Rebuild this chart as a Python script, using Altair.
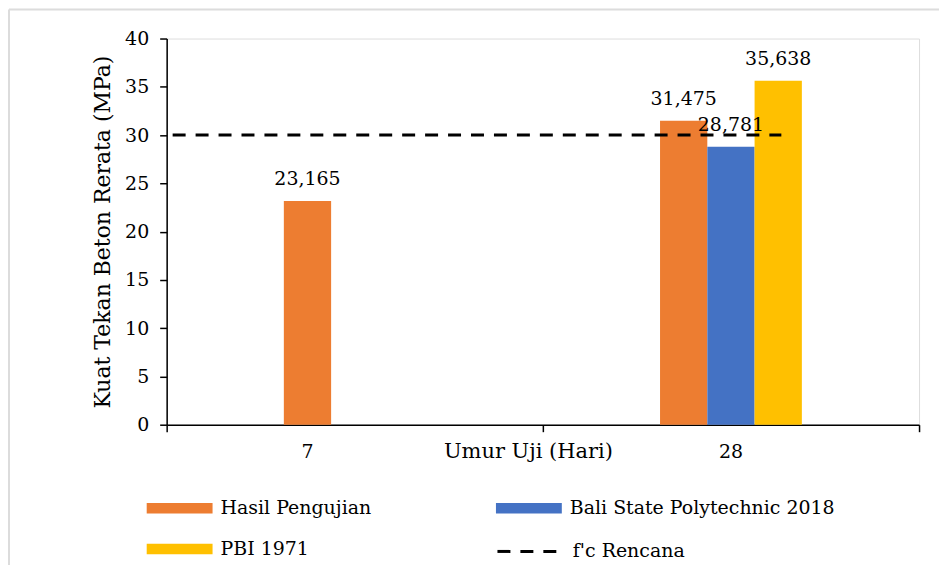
import altair as alt
import pandas as pd

# ---- data ----
umur = ["7", "28", "28", "28"]
seri = ["Hasil Pengujian", "Hasil Pengujian", "Bali State Polytechnic 2018", "PBI 1971"]
kuat = [23.165, 31.475, 28.781, 35.638]

kategori = ["7", "28"]
posisi_label = ["Hasil Pengujian", "Bali State Polytechnic 2018"]

fc_nama = ["f'c Rencana"]
fc_rencana = [30]

urutan_seri = ["Hasil Pengujian", "Bali State Polytechnic 2018", "PBI 1971"]
urutan_legenda = ["Hasil Pengujian", "PBI 1971", "Bali State Polytechnic 2018"]
warna = ["#ED7D31", "#4472C4", "#FFC000"]
y_ticks = [0, 5, 10, 15, 20, 25, 30, 35, 40]

FONT = "DejaVu Serif"
W, H = 754, 387
BAND = W / len(kategori)
GROUP_PAD = 0.3115
SYM = "M-1,-0.32H3V0.32H-1Z"
SYM_LINE = "M-1,0H3"

bars_df = pd.DataFrame({"umur": umur, "seri": seri, "kuat": kuat})
xlab_df = pd.DataFrame({"umur": kategori, "seri": posisi_label})
fc_df = pd.DataFrame({"nama": fc_nama, "fc": fc_rencana})

x_enc = alt.X(
    "umur:N",
    scale=alt.Scale(domain=kategori, paddingInner=0, paddingOuter=0),
    axis=alt.Axis(
        title="Umur Uji (Hari)",
        labels=False,
        tickBand="extent",
        tickSize=7,
        tickColor="black",
        tickWidth=1.5,
        domainColor="black",
        domainWidth=1.5,
        titleFont=FONT,
        titleFontSize=21,
        titleFontWeight="normal",
        titleColor="black",
        titleX=362,
        titleY=27,
        titleAlign="center",
        titleBaseline="middle",
    ),
)
xoff = alt.XOffset(
    "seri:N",
    scale=alt.Scale(
        domain=urutan_seri,
        paddingInner=0,
        paddingOuter=0,
        range=[BAND * GROUP_PAD, BAND * (1 - GROUP_PAD)],
    ),
)
y_scale = alt.Scale(domain=[0, 40], nice=False)

bars = alt.Chart(bars_df).mark_bar().encode(
    x=x_enc,
    xOffset=xoff,
    y=alt.Y(
        "kuat:Q",
        scale=y_scale,
        axis=alt.Axis(
            title="Kuat Tekan Beton Rerata (MPa)",
            values=y_ticks,
            grid=False,
            tickSize=7,
            tickColor="black",
            tickWidth=1.5,
            domainColor="black",
            domainWidth=1.5,
            labelFont=FONT,
            labelFontSize=19,
            labelColor="black",
            labelPadding=11,
            titleFont=FONT,
            titleFontSize=22,
            titleFontWeight="normal",
            titleColor="black",
            titlePadding=10,
        ),
    ),
    color=alt.Color(
        "seri:N",
        scale=alt.Scale(domain=urutan_seri, range=warna),
        legend=alt.Legend(
            title=None,
            orient="none",
            legendX=-20,
            legendY=454,
            columns=2,
            values=urutan_legenda,
            columnPadding=124,
            rowPadding=14,
            symbolType=SYM,
            symbolSize=1089,
            symbolStrokeWidth=0,
            symbolOpacity=1,
            labelFont=FONT,
            labelFontSize=19,
            labelColor="black",
            labelOffset=41,
            labelLimit=400,
        ),
    ),
)

bar_labels = alt.Chart(bars_df).transform_calculate(
    lbl="replace(format(datum.kuat, '.3f'), '.', ',')"
).mark_text(font=FONT, fontSize=19, color="black", baseline="middle", dy=-22).encode(
    x=alt.X("umur:N"),
    xOffset=alt.XOffset("seri:N"),
    y=alt.Y("kuat:Q"),
    text="lbl:N",
)

x_labels = alt.Chart(xlab_df).mark_text(
    font=FONT, fontSize=19, color="black", baseline="middle"
).encode(
    x=alt.X("umur:N"),
    xOffset=alt.XOffset("seri:N"),
    y=alt.value(H + 27),
    text="umur:N",
)

fc_line = alt.Chart(fc_df).mark_rule(color="black", strokeWidth=3).encode(
    y=alt.Y("fc:Q"),
    x=alt.value(6),
    x2=alt.value(616),
    strokeDash=alt.StrokeDash(
        "nama:N",
        scale=alt.Scale(domain=fc_nama, range=[[13, 10]]),
        legend=alt.Legend(
            title=None,
            orient="none",
            legendX=330,
            legendY=496,
            symbolType=SYM_LINE,
            symbolSize=1089,
            symbolStrokeWidth=3,
            symbolStrokeColor="black",
            symbolFillColor="transparent",
            labelFont=FONT,
            labelFontSize=19,
            labelColor="black",
            labelOffset=41,
            labelLimit=400,
        ),
    ),
)

border_left = alt.Chart(fc_df).mark_rule(color="#dcdcdc", strokeWidth=2).encode(
    x=alt.value(-158), y=alt.value(-29), y2=alt.value(H + 200)
)
border_top = alt.Chart(fc_df).mark_rule(color="#dcdcdc", strokeWidth=2).encode(
    y=alt.value(-29), x=alt.value(-158), x2=alt.value(W + 100)
)

chart = alt.layer(border_left, border_top, bars, fc_line, bar_labels, x_labels).properties(
    width=W,
    height=H,
    autosize=alt.AutoSizeParams(type="none"),
    padding={"left": 159, "top": 30, "right": 20, "bottom": 140},
).resolve_legend(color="independent", strokeDash="independent").configure_view(
    stroke=None
).configure(background="white", font=FONT)

chart.save("out.html", embed_options={"renderer": "svg", "actions": False})
